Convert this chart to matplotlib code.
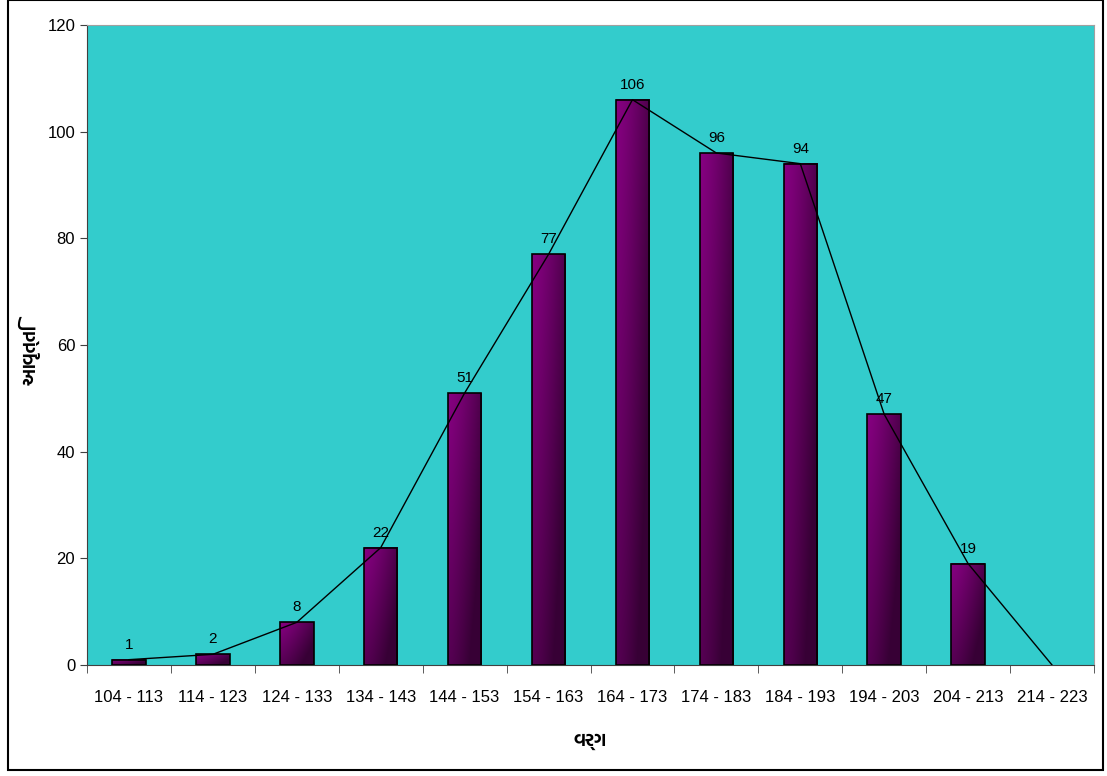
import numpy as np
import matplotlib
matplotlib.use("Agg")
import matplotlib.pyplot as plt
from matplotlib import font_manager
from matplotlib.patches import Rectangle
from matplotlib.ft2font import FT2Font

classes = ["104 - 113", "114 - 123", "124 - 133", "134 - 143", "144 - 153", "154 - 163",
           "164 - 173", "174 - 183", "184 - 193", "194 - 203", "204 - 213", "214 - 223"]
freq = [1, 2, 8, 22, 51, 77, 106, 96, 94, 47, 19, 0]
xlabel = "વર્ગ"
ylabel = "આવૃત્તિ"

# look for a font that has gujarati glyphs, else fall back
guj_font = None
for f in font_manager.findSystemFonts():
    try:
        if 0x0AB5 in FT2Font(f).get_charmap():
            guj_font = font_manager.FontProperties(fname=f).get_name()
            if "Bold" in f or "bold" in f:
                break
    except Exception:
        pass
guj_family = [guj_font, "DejaVu Sans"] if guj_font else ["DejaVu Sans"]

names = {f.name for f in font_manager.fontManager.ttflist}
num_font = "Liberation Sans Narrow" if "Liberation Sans Narrow" in names else "Liberation Sans"
plt.rcParams["font.family"] = [num_font, "DejaVu Sans"]

fig = plt.figure(figsize=(11.07, 7.76), dpi=100)
ax = fig.add_axes([87 / 1107, 1 - 665 / 776, (1094 - 87) / 1107, (665 - 25) / 776])
ax.set_facecolor("#33CCCC")

x = np.arange(len(classes))
bw = 0.4

# gradient for bars: bright purple top-left -> dark right/bottom
gx = np.linspace(0, 1, 40)
gy = np.linspace(0, 1, 100)
GX, GY = np.meshgrid(gx, gy)
shade = 0.97 - 0.40 * GX ** 1.3 - 0.35 * GY
shade = np.clip(shade, 0.4, 1)
img = np.zeros((100, 40, 3))
img[..., 0] = 0.54 * shade
img[..., 1] = 0.0
img[..., 2] = 0.52 * shade

for xi, v in zip(x, freq):
    if v <= 0:
        continue
    ax.imshow(img, extent=[xi - bw / 2, xi + bw / 2, 0, v], origin="upper",
              aspect="auto", zorder=2, interpolation="bilinear")
    ax.add_patch(Rectangle((xi - bw / 2, 0), bw, v, fill=False, edgecolor="black",
                           linewidth=1.2, zorder=3))
    ax.text(xi, v + 1.5, str(v), ha="center", va="bottom", fontsize=11, zorder=4)

ax.plot(x, freq, color="black", linewidth=1, zorder=5)

ax.set_xlim(-0.5, len(classes) - 0.5)
ax.set_ylim(0, 120)
ax.set_yticks(range(0, 121, 20))
ax.set_xticks(x)
ax.set_xticklabels(classes, fontsize=12)
ax.set_xticks(np.arange(-0.5, len(classes), 1), minor=True)
ax.tick_params(axis="x", which="major", length=0, pad=18)
ax.tick_params(axis="x", which="minor", length=6, color="#404040", direction="out")
ax.tick_params(axis="y", labelsize=12, length=5, color="#404040")

for s in ["top", "right"]:
    ax.spines[s].set_color("#A0A0A0")
for s in ["left", "bottom"]:
    ax.spines[s].set_color("#404040")

ax.set_xlabel(xlabel, family=guj_family, fontsize=13, fontweight="bold")
ax.set_ylabel(ylabel, family=guj_family, fontsize=13, fontweight="bold")
ax.xaxis.set_label_coords(0.5, -0.107)
ax.yaxis.set_label_coords(-0.046, 0.485)

# outer frame
fig.patches.append(Rectangle((8 / 1107, 6 / 776), (1103 - 8) / 1107, (776 - 6) / 776,
                             transform=fig.transFigure, fill=False, edgecolor="black",
                             linewidth=1.5))

fig.savefig("out.png", dpi=100, facecolor="white")
